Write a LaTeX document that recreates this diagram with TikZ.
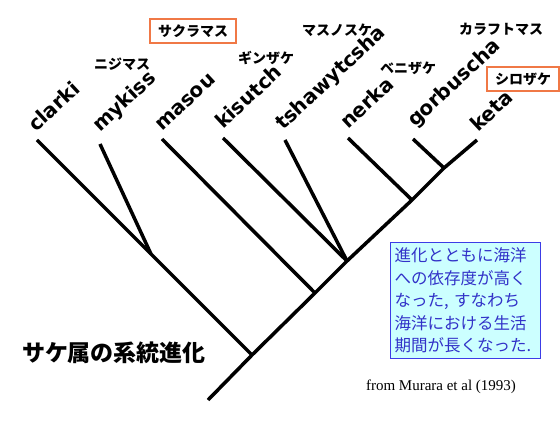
\documentclass[tikz,border=0pt]{standalone}
\usepackage{fontspec}
\usetikzlibrary{calc}
\newfontfamily\jp{Noto Sans CJK JP}
\newfontfamily\lab{DejaVu Sans}
\newfontfamily\ser{Liberation Serif}
\definecolor{boxorange}{RGB}{240,120,70}
\definecolor{boxfill}{RGB}{204,255,255}
\definecolor{boxblue}{RGB}{60,60,230}
\definecolor{textblue}{RGB}{50,50,200}
\begin{document}
\begin{tikzpicture}[x=1pt,y=-1pt,
  branch/.style={line width=3.5pt, line join=round},
  sp/.style={font=\lab\bfseries\fontsize{20}{20}\selectfont, rotate=43, anchor=base west, inner sep=0pt},
  jn/.style={font=\jp\bfseries\fontsize{14}{14}\selectfont, inner sep=0pt},
  jbox/.style={jn, draw=boxorange, line width=1.2pt, inner xsep=8pt, minimum height=24pt},
  bluebox/.style={draw=boxblue, fill=boxfill, text=textblue, line width=1pt,
    font=\jp\fontsize{16.5}{22.5}\selectfont, align=left, text width=142pt,
    inner xsep=4pt, minimum height=116pt}
]
\useasboundingbox (0,0) rectangle (560,422);
\fill[white] (0,0) rectangle (560,422);

% tree coordinates
\coordinate (root) at (208,400);
\coordinate (j1) at (252,355);
\coordinate (j2) at (315,293);
\coordinate (j3) at (347,261);
\coordinate (j4) at (412,200);
\coordinate (j5) at (444,168);
\coordinate (tclarki) at (37,140);
\coordinate (tmykiss) at (100,144);
\coordinate (tmasou) at (162,139);
\coordinate (tkisutch) at (223,138);
\coordinate (ttshaw) at (285,140);
\coordinate (tnerka) at (348,138);
\coordinate (tgorb) at (413,139);
\coordinate (tketa) at (477,140);
\coordinate (jm) at ($(tclarki)!0.53!(j1)$);

% branches
\draw[branch] (root) -- (j1) -- (j2) -- (j3) -- (j4) -- (j5) -- (tketa);
\draw[branch] (j1) -- (tclarki);
\draw[branch] (jm) -- (tmykiss);
\draw[branch] (j2) -- (tmasou);
\draw[branch] (j3) -- (tkisutch);
\draw[branch] (j3) -- (ttshaw);
\draw[branch] (j4) -- (tnerka);
\draw[branch] (j5) -- (tgorb);

% species labels
\node[sp] (lclarki) at ([shift={(-1,-7)}]tclarki) {clarki};
\node[sp] (lmykiss) at ([shift={(0,-11)}]tmykiss) {mykiss};
\node[sp] (lmasou) at ([shift={(0,-7)}]tmasou) {masou};
\node[sp] (lkisutch) at ([shift={(0,-8)}]tkisutch) {kisutch};
\node[sp] (ltshaw) at ([shift={(-2,-9)}]ttshaw) {tshawytcsha};
\node[sp] (lnerka) at ([shift={(0,-8)}]tnerka) {nerka};
\node[sp] (lgorb) at ([shift={(2,-11)}]tgorb) {gorbuscha};
\node[sp] (lketa) at ([shift={(1,-7)}]tketa) {keta};

% Japanese names
\node[jbox] (sakura) at (193,31) {サクラマス};
\node[jn] (niji) at (122,64) {ニジマス};
\node[jn] (gin) at (266,58) {ギンザケ};
\node[jn] (masuno) at (337,30) {マスノスケ};
\node[jn] (beni) at (408,68) {ベニザケ};
\node[jn] (karafuto) at (501,29) {カラフトマス};
\node[jbox] (shiro) at (523,79) {シロザケ};

% title and notes
\node[font=\jp\bfseries\fontsize{23}{23}\selectfont, inner sep=0pt] (title) at (114,353) {サケ属の系統進化};
\node[bluebox, anchor=north west] (note) at (390,242) {進化とともに海洋\\への依存度が高く\\なった, すなわち\\海洋における生活\\期間が長くなった.};
\node[font=\ser\fontsize{15}{15}\selectfont, inner sep=0pt] (credit) at (441,387) {from Murara et al (1993)};
\end{tikzpicture}
\end{document}
